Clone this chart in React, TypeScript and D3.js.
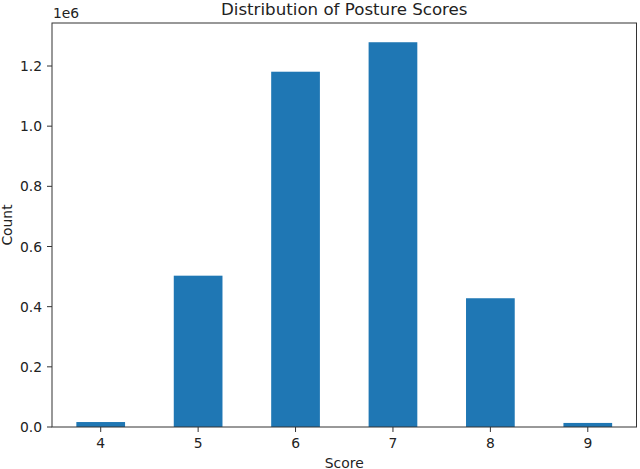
import React from "react";
import * as d3 from "d3";

const scores = ["4", "5", "6", "7", "8", "9"];
const counts = [16500, 503000, 1181000, 1279000, 428000, 13500];
const yTicks = [0, 0.2e6, 0.4e6, 0.6e6, 0.8e6, 1.0e6, 1.2e6];

const W = 640;
const H = 469;
const M = { left: 52, right: 636.5, top: 23, bottom: 427 };

export default function App() {
  const x = d3
    .scaleLinear()
    .domain([-0.5, scores.length - 0.5])
    .range([M.left, M.right]);
  const yMax = (d3.max(counts) as number) * 1.05;
  const y = d3.scaleLinear().domain([0, yMax]).range([M.bottom, M.top]);
  const bw = x(0.25) - x(-0.25);
  const font = "DejaVu Sans, sans-serif";
  const axisColor = "#333";
  const fs = 13.89;
  return (
    <svg
      width={W}
      height={H}
      style={{ position: "absolute", left: 0, top: 0, background: "#fff" }}
      fontFamily={font}
    >
      {counts.map((c, i) => (
        <rect
          key={i}
          x={x(i) - bw / 2}
          y={y(c)}
          width={bw}
          height={y(0) - y(c)}
          fill="#1f77b4"
        />
      ))}
      <rect
        x={M.left}
        y={M.top}
        width={M.right - M.left}
        height={M.bottom - M.top}
        fill="none"
        stroke={axisColor}
        strokeWidth={1}
      />
      {yTicks.map((t) => (
        <g key={t}>
          <line x1={M.left - 5} x2={M.left} y1={y(t)} y2={y(t)} stroke={axisColor} />
          <text
            x={M.left - 10}
            y={y(t)}
            dy="0.36em"
            textAnchor="end"
            fontSize={fs}
            fill="#222"
          >
            {(t / 1e6).toFixed(1)}
          </text>
        </g>
      ))}
      {scores.map((s, i) => (
        <g key={s}>
          <line x1={x(i)} x2={x(i)} y1={M.bottom} y2={M.bottom + 5} stroke={axisColor} />
          <text x={x(i)} y={M.bottom + 21} textAnchor="middle" fontSize={fs} fill="#222">
            {s}
          </text>
        </g>
      ))}
      <text x={M.left + 1} y={M.top - 5} fontSize={fs} fill="#222">
        1e6
      </text>
      <text
        x={(M.left + M.right) / 2}
        y={15}
        textAnchor="middle"
        fontSize={16.67}
        fill="#222"
      >
        Distribution of Posture Scores
      </text>
      <text
        x={(M.left + M.right) / 2}
        y={467.5}
        textAnchor="middle"
        fontSize={fs}
        fill="#222"
      >
        Score
      </text>
      <text
        transform={`translate(11.5, ${(M.top + M.bottom) / 2}) rotate(-90)`}
        textAnchor="middle"
        fontSize={fs}
        fill="#222"
      >
        Count
      </text>
    </svg>
  );
}
